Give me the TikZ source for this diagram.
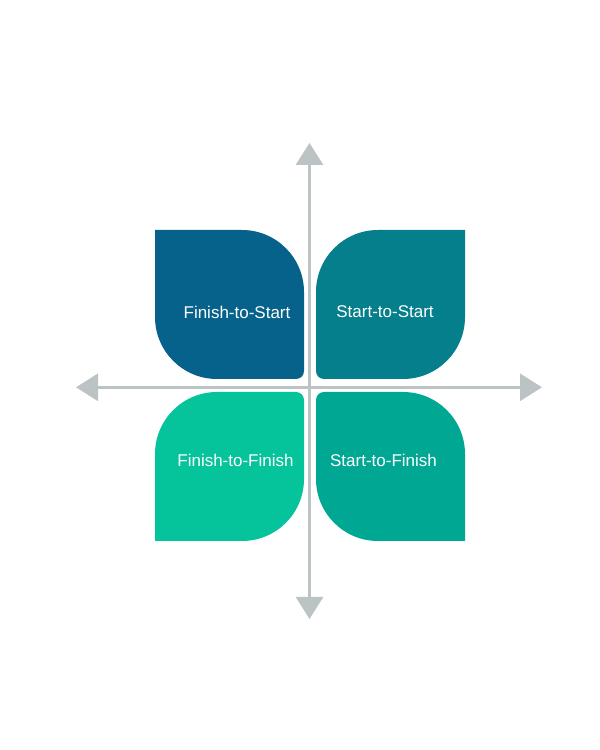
\documentclass[tikz,border=0pt]{standalone}
\usepackage{fontspec}
\setmainfont{Liberation Sans}
\usetikzlibrary{arrows.meta}
\definecolor{cTL}{HTML}{06628A}
\definecolor{cTR}{HTML}{047F8B}
\definecolor{cBL}{HTML}{05C39A}
\definecolor{cBR}{HTML}{00A894}
\definecolor{axisgray}{HTML}{BCC3C4}
\tikzset{
  axisline/.style={draw=axisgray, line width=3pt, -{Triangle[length=22pt,width=27pt]}},
  petaltext/.style={text=white, font=\fontsize{17}{20}\selectfont, inner sep=0pt}
}
\begin{document}
\begin{tikzpicture}[x=1pt,y=1pt]
\useasboundingbox[fill=white] (0,0) rectangle (600,750);
% petals
\fill[cTL] (155,520) -- (242,520) arc[start angle=90,end angle=0,radius=62pt] -- (304,379) arc[start angle=0,end angle=-90,radius=8pt] -- (217,371) arc[start angle=270,end angle=180,radius=62pt] -- cycle;
\fill[cTR] (465,520) -- (465,433) arc[start angle=0,end angle=-90,radius=62pt] -- (324,371) arc[start angle=270,end angle=180,radius=8pt] -- (316,458) arc[start angle=180,end angle=90,radius=62pt] -- cycle;
\fill[cBL] (155,209) -- (242,209) arc[start angle=-90,end angle=0,radius=62pt] -- (304,350) arc[start angle=0,end angle=90,radius=8pt] -- (217,358) arc[start angle=90,end angle=180,radius=62pt] -- cycle;
\fill[cBR] (465,209) -- (465,296) arc[start angle=0,end angle=90,radius=62pt] -- (324,358) arc[start angle=90,end angle=180,radius=8pt] -- (316,271) arc[start angle=180,end angle=270,radius=62pt] -- cycle;
% axes
\coordinate (top) at (309.5,607);
\coordinate (bottom) at (309.5,131);
\coordinate (left) at (76,362.7);
\coordinate (right) at (542,362.7);
\coordinate (center) at (309.5,362.7);
\draw[axisline] (center) -- (top);
\draw[axisline] (center) -- (bottom);
\draw[axisline] (center) -- (left);
\draw[axisline] (center) -- (right);
% labels
\node[petaltext] (fs) at (237,438) {Finish-to-Start};
\node[petaltext] (ss) at (385,438) {Start-to-Start};
\node[petaltext] (ff) at (235.5,290) {Finish-to-Finish};
\node[petaltext] (sf) at (383.5,290) {Start-to-Finish};
\end{tikzpicture}
\end{document}
